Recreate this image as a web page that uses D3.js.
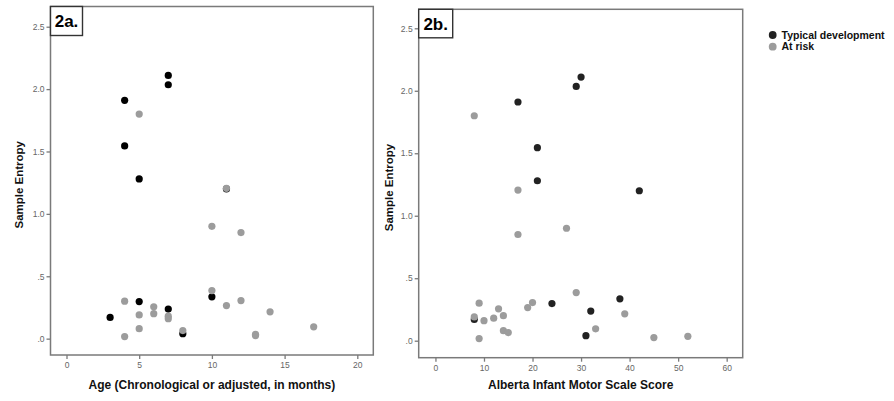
<!DOCTYPE html>
<html>
<head>
<meta charset="utf-8">
<script src="https://cdn.jsdelivr.net/npm/d3@7"></script>
<style>
  html, body { margin: 0; padding: 0; background: #fff; }
  svg { display: block; font-family: Arial, "Liberation Sans", Helvetica, sans-serif; }
</style>
</head>
<body>
<svg id="chart" width="894" height="401"></svg>
<script>
// ---- Data ----
const typicalAge     = [4, 4, 7, 7, 5, 11, 10, 5, 3, 7, 8];
const typicalAims    = [17, 21, 30, 29, 21, 42, 38, 24, 8, 32, 31];
const typicalEntropy = [1.91, 1.545, 2.11, 2.035, 1.28, 1.20, 0.335, 0.297, 0.17, 0.237, 0.04];

const atRiskAge     = [5, 11, 10, 12, 10, 4, 6, 6, 5, 7, 7, 5, 4, 8, 11, 12, 14, 13, 13, 17];
const atRiskAims    = [8, 17, 27, 17, 29, 9, 13, 14, 8, 12, 10, 14, 9, 15, 19, 20, 39, 45, 52, 33];
const atRiskEntropy = [1.80, 1.205, 0.90, 0.85, 0.385, 0.30, 0.255, 0.20, 0.19, 0.18, 0.16, 0.08, 0.017, 0.065, 0.265, 0.305, 0.215, 0.025, 0.035, 0.095];

const yTicks = [0, 0.5, 1.0, 1.5, 2.0, 2.5];
const yTickLabels = [".0", ".5", "1.0", "1.5", "2.0", "2.5"];
const ageTicks = [0, 5, 10, 15, 20];
const aimsTicks = [0, 10, 20, 30, 40, 50, 60];
const legendLabels = ["Typical development", "At risk"];
const panelLabels = ["2a.", "2b."];
const axisTitles = ["Age (Chronological or adjusted, in months)", "Alberta Infant Motor Scale Score"];
const yTitle = "Sample Entropy";

const svg = d3.select("#chart");

const panels = [
  {
    label: panelLabels[0], xTitle: axisTitles[0], xTicks: ageTicks,
    xDomain: [-1.1, 21.1], xRange: [50.5, 373.3],
    yDomain: [-0.131, 2.662], yRange: [355, 6.5],
    tx: typicalAge, rx: atRiskAge, black: "#000000",
    yTitleX: 19, boxW: 32, boxH: 29
  },
  {
    label: panelLabels[1], xTitle: axisTitles[1], xTicks: aimsTicks,
    xDomain: [-3.45, 63.3], xRange: [418.7, 742.7],
    yDomain: [-0.136, 2.652], yRange: [357.7, 9.3],
    tx: typicalAims, rx: atRiskAims, black: "#222222",
    yTitleX: 389, boxW: 34, boxH: 28.5
  }
];

const frameColor = "#7a7a7a";
const grayDot = "#9c9c9c";
const tickTextColor = "#666";
const dotR = 3.6;

panels.forEach(p => {
  const x = d3.scaleLinear().domain(p.xDomain).range(p.xRange);
  const y = d3.scaleLinear().domain(p.yDomain).range(p.yRange);
  const g = svg.append("g");

  const [x0, x1] = p.xRange;
  const [yb, yt] = p.yRange;

  // frame
  g.append("rect")
    .attr("x", x0).attr("y", yt)
    .attr("width", x1 - x0).attr("height", yb - yt)
    .attr("fill", "none").attr("stroke", frameColor).attr("stroke-width", 1.5);

  // axes
  const xAxis = d3.axisBottom(x).tickValues(p.xTicks).tickSize(4).tickPadding(3).tickFormat(d3.format("d"));
  const xg = g.append("g").attr("transform", `translate(0,${yb})`).call(xAxis);
  xg.select(".domain").remove();
  xg.selectAll("line").attr("stroke", frameColor).attr("stroke-width", 1.3);
  xg.selectAll("text").attr("fill", tickTextColor).attr("font-size", 8.5)
    .attr("font-family", "Arial, 'Liberation Sans', sans-serif");

  const yAxis = d3.axisLeft(y).tickValues(yTicks).tickSize(4).tickPadding(2)
    .tickFormat(d => yTickLabels[yTicks.indexOf(d)]);
  const yg = g.append("g").attr("transform", `translate(${x0},0)`).call(yAxis);
  yg.select(".domain").remove();
  yg.selectAll("line").attr("stroke", frameColor).attr("stroke-width", 1.3);
  yg.selectAll("text").attr("fill", tickTextColor).attr("font-size", 8.5)
    .attr("font-family", "Arial, 'Liberation Sans', sans-serif");

  // panel label box
  g.append("rect")
    .attr("x", x0).attr("y", yt)
    .attr("width", p.boxW).attr("height", p.boxH)
    .attr("fill", "#fff").attr("stroke", "#333").attr("stroke-width", 1.4);
  g.append("text")
    .attr("x", x0 + p.boxW / 2).attr("y", yt + p.boxH / 2 + 6)
    .attr("text-anchor", "middle")
    .attr("font-size", 17).attr("font-weight", "bold").attr("fill", "#000")
    .text(p.label);

  // axis titles
  g.append("text")
    .attr("x", (x0 + x1) / 2).attr("y", 389)
    .attr("text-anchor", "middle")
    .attr("font-size", 12).attr("font-weight", "bold").attr("fill", "#111")
    .text(p.xTitle);
  g.append("text")
    .attr("transform", `translate(${p.yTitleX},${(yt + yb) / 2 + 4}) rotate(-90)`)
    .attr("text-anchor", "middle").attr("dominant-baseline", "central")
    .attr("font-size", 11.5).attr("font-weight", "bold").attr("fill", "#111")
    .text(yTitle);

  // points: typical first, at risk drawn on top
  g.append("g").selectAll("circle")
    .data(d3.range(typicalEntropy.length))
    .join("circle")
    .attr("cx", i => x(p.tx[i])).attr("cy", i => y(typicalEntropy[i]))
    .attr("r", dotR).attr("fill", p.black);
  g.append("g").selectAll("circle")
    .data(d3.range(atRiskEntropy.length))
    .join("circle")
    .attr("cx", i => x(p.rx[i])).attr("cy", i => y(atRiskEntropy[i]))
    .attr("r", dotR).attr("fill", grayDot);
});

// legend
const legendColors = ["#222222", grayDot];
const lg = svg.append("g");
legendLabels.forEach((lab, i) => {
  lg.append("circle").attr("cx", 772.7).attr("cy", 35 + i * 11.7).attr("r", 3.9).attr("fill", legendColors[i]);
  lg.append("text").attr("x", 781.5).attr("y", 35 + i * 11.7 + 3.7)
    .attr("font-size", 10.5).attr("font-weight", "bold").attr("fill", "#111")
    .text(lab);
});
</script>
</body>
</html>
